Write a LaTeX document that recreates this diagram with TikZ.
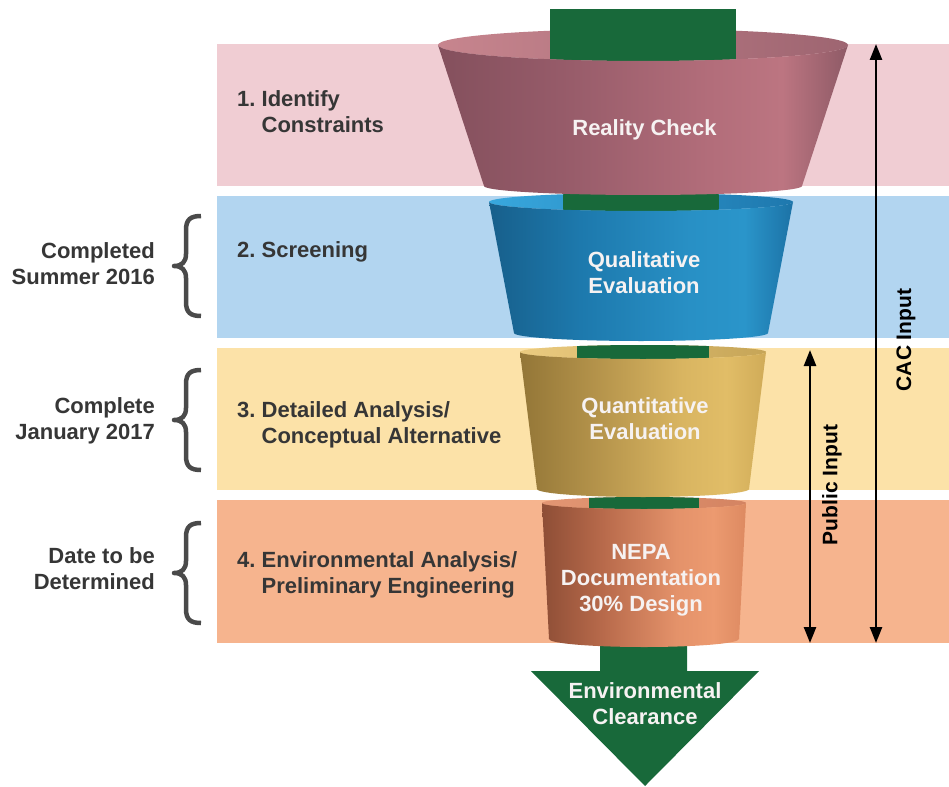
\documentclass[tikz,border=0pt]{standalone}
\usepackage{fontspec}
\setmainfont{Liberation Sans}
\usetikzlibrary{arrows.meta}
\definecolor{bandpink}{HTML}{F0CDD3}
\definecolor{bandblue}{HTML}{B2D5F0}
\definecolor{bandyellow}{HTML}{FCE2A8}
\definecolor{bandorange}{HTML}{F6B48E}
\definecolor{grn}{HTML}{18693A}
\definecolor{labgray}{HTML}{363636}
\definecolor{bracegray}{HTML}{4A4A4A}
\definecolor{cupwhite}{HTML}{F6F2F2}
% pink cup
\definecolor{pkA}{HTML}{84505D}\definecolor{pkB}{HTML}{965B69}\definecolor{pkC}{HTML}{B26D7A}
\definecolor{pkD}{HTML}{BC7581}\definecolor{pkE}{HTML}{8E5A66}
\definecolor{pkIL}{HTML}{C7858E}\definecolor{pkIR}{HTML}{9E6571}
% blue cup
\definecolor{blA}{HTML}{175F8B}\definecolor{blB}{HTML}{1D79AD}\definecolor{blC}{HTML}{2890C5}
\definecolor{blD}{HTML}{2A95CA}\definecolor{blE}{HTML}{1C72A6}
\definecolor{blIL}{HTML}{38A7DD}\definecolor{blIR}{HTML}{1E78AE}
% yellow cup
\definecolor{ylA}{HTML}{937637}\definecolor{ylB}{HTML}{B3924A}\definecolor{ylC}{HTML}{D9B561}
\definecolor{ylD}{HTML}{E1BD67}\definecolor{ylE}{HTML}{D0AB58}
\definecolor{ylIL}{HTML}{EBCB80}\definecolor{ylIR}{HTML}{C6A557}
% orange cup
\definecolor{orA}{HTML}{8E4E36}\definecolor{orB}{HTML}{B86A4B}\definecolor{orC}{HTML}{E4926A}
\definecolor{orD}{HTML}{EC9A70}\definecolor{orE}{HTML}{DD8A61}
\definecolor{orIL}{HTML}{E39673}\definecolor{orIR}{HTML}{D48462}
\pgfdeclarehorizontalshading{pkbody}{100bp}{color(0bp)=(pkA); color(25bp)=(pkA); color(40bp)=(pkB); color(58bp)=(pkC); color(67bp)=(pkD); color(75bp)=(pkE); color(100bp)=(pkE)}
\pgfdeclarehorizontalshading{blbody}{100bp}{color(0bp)=(blA); color(25bp)=(blA); color(40bp)=(blB); color(58bp)=(blC); color(67bp)=(blD); color(75bp)=(blE); color(100bp)=(blE)}
\pgfdeclarehorizontalshading{ylbody}{100bp}{color(0bp)=(ylA); color(25bp)=(ylA); color(40bp)=(ylB); color(58bp)=(ylC); color(67bp)=(ylD); color(75bp)=(ylE); color(100bp)=(ylE)}
\pgfdeclarehorizontalshading{orbody}{100bp}{color(0bp)=(orA); color(25bp)=(orA); color(40bp)=(orB); color(58bp)=(orC); color(67bp)=(orD); color(75bp)=(orE); color(100bp)=(orE)}
% cup: #1 cx, #2 top y, #3 top rx, #4 top ry, #5 bottom y, #6 bottom rx, #7 bottom bulge, #8 green half width, #9 colour prefix
\newcommand\funnelcup[9]{%
  \shade[left color=#9IL, right color=#9IR] (#1,#2) ellipse [x radius=#3pt, y radius=#4pt];
  \begin{scope}
    \clip (#1,#2) ellipse [x radius=#3pt, y radius=#4pt];
    \fill[grn] ({#1-#8},{#2-#4}) rectangle ({#1+#8},{#2+#4});
  \end{scope}
  \shade[shading=#9body] ({#1-#3},#2) -- ({#1-#6},#5)
    .. controls ({#1-#6},{#5+0.5523*#7}) and ({#1-0.5523*#6},{#5+#7}) .. ({#1},{#5+#7})
    .. controls ({#1+0.5523*#6},{#5+#7}) and ({#1+#6},{#5+0.5523*#7}) .. ({#1+#6},#5)
    -- ({#1+#3},#2)
    .. controls ({#1+#3},{#2+0.5523*#4}) and ({#1+0.5523*#3},{#2+#4}) .. ({#1},{#2+#4})
    .. controls ({#1-0.5523*#3},{#2+#4}) and ({#1-#3},{#2+0.5523*#4}) .. cycle;
}
\newcommand\datebrace[2]{%
  \draw[bracestyle] (201,#1) .. controls (191,#1) and (186,{#1+3}) .. (186,{#1+14})
    -- (186,{(#1+#2)/2-12}) .. controls (186,{(#1+#2)/2-4}) and (182,{(#1+#2)/2}) .. (174,{(#1+#2)/2})
    .. controls (182,{(#1+#2)/2}) and (186,{(#1+#2)/2+4}) .. (186,{(#1+#2)/2+12})
    -- (186,{#2-14}) .. controls (186,{#2-3}) and (191,#2) .. (201,#2);}
\tikzset{
  basefont/.style={font=\fontsize{22}{26}\selectfont\bfseries\frenchspacing},
  steptext/.style={basefont, anchor=west, align=left, inner sep=0pt, text=labgray},
  datetext/.style={basefont, anchor=east, align=right, inner sep=0pt, text=labgray},
  cuptext/.style={basefont, align=center, inner sep=0pt, text=cupwhite},
  sidetext/.style={font=\fontsize{21}{25}\selectfont\bfseries, rotate=90, inner sep=0pt, text=black},
  dblarrow/.style={line width=2.5pt, {Triangle[width=12pt,length=16pt]}-{Triangle[width=12pt,length=16pt]}},
  bracestyle/.style={line width=4.5pt, draw=bracegray, line cap=butt, line join=round},
}
\begin{document}
\begin{tikzpicture}[x=1pt,y=-1pt]
\useasboundingbox (0,0) rectangle (949,786);
\fill[white] (0,0) rectangle (949,786);
% bands
\fill[bandpink] (217,44) rectangle (949,186);
\fill[bandblue] (217,196) rectangle (949,338);
\fill[bandyellow] (217,348) rectangle (949,490);
\fill[bandorange] (217,500) rectangle (949,643);
% step labels
\node[steptext] (s1) at (237,114.8) {\strut 1. Identify\\\strut\phantom{1. }Constraints};
\node[steptext] (s2) at (237,251.8) {\strut 2. Screening};
\node[steptext] (s3) at (237,424.8) {\strut 3. Detailed Analysis/\\\strut\phantom{3. }Conceptual Alternative};
\node[steptext] (s4) at (237,574.8) {\strut 4. Environmental Analysis/\\\strut\phantom{4. }Preliminary Engineering};
% dates and braces
\node[datetext] (d2) at (155,265.8) {\strut Completed\\\strut Summer 2016};
\node[datetext] (d3) at (155,420.8) {\strut Complete\\\strut January 2017};
\node[datetext] (d4) at (155,570.8) {\strut Date to be\\\strut Determined};
\datebrace{216}{316}
\datebrace{370}{470}
\datebrace{523}{623}
% input arrows
\coordinate (cacT) at (876,44);
\coordinate (cacB) at (876,643);
\coordinate (pubT) at (810,350);
\coordinate (pubB) at (810,643);
\draw[dblarrow] (cacT) -- (cacB);
\draw[dblarrow] (pubT) -- (pubB);
\node[sidetext] (cac) at (906,340) {CAC Input};
\node[sidetext] (pub) at (832,485) {Public Input};
% bottom arrow
\fill[grn] (600,630) -- (687,630) -- (687,671) -- (759,671) -- (645,786) -- (531,671) -- (600,671) -- cycle;
% funnel cups, bottom to top
\funnelcup{644}{503}{102}{6}{639}{95}{8}{55}{or}
\funnelcup{643}{352}{123}{7}{489}{106}{8}{66}{yl}
\funnelcup{641}{202}{152}{9}{333}{127}{8}{78}{bl}
\funnelcup{643}{45}{205}{16}{186}{159}{9}{93}{pk}
\fill[grn] (550,9) rectangle (736,45);
% funnel texts
\node[cuptext] (t1) at (644.5,130.8) {\strut Reality Check};
\node[cuptext] (t2) at (644,274.8) {\strut Qualitative\\\strut Evaluation};
\node[cuptext] (t3) at (645,420.8) {\strut Quantitative\\\strut Evaluation};
\node[cuptext] (t4) at (641,579.8) {\strut NEPA\\\strut Documentation\\\strut 30\% Design};
\node[cuptext] (t5) at (645,705.8) {\strut Environmental\\\strut Clearance};
\end{tikzpicture}
\end{document}
